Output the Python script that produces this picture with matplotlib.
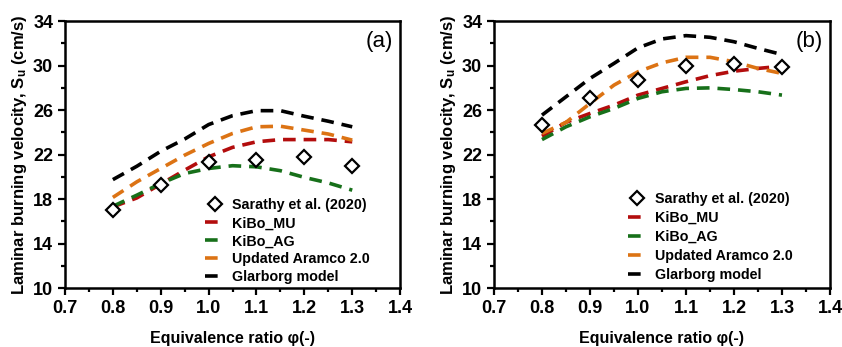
import numpy as np
import matplotlib
matplotlib.use('Agg')
import matplotlib.pyplot as plt
from matplotlib.ticker import MultipleLocator, FixedLocator

plt.rcParams['font.family'] = ['Liberation Sans', 'DejaVu Sans']
plt.rcParams['font.weight'] = 'bold'
plt.rcParams['mathtext.fontset'] = 'custom'
plt.rcParams['mathtext.rm'] = 'Liberation Sans:bold'
plt.rcParams['mathtext.bf'] = 'Liberation Sans:bold'

#DATA
phi_exp = [0.8, 0.9, 1.0, 1.1, 1.2, 1.3]
phi = [0.8, 0.85, 0.9, 0.95, 1.0, 1.05, 1.1, 1.15, 1.2, 1.25, 1.3]
yticks = [10, 14, 18, 22, 26, 30, 34]

# panel (a)
sarathy_a = [17.0, 19.25, 21.3, 21.5, 21.8, 20.95]
mu_a = [17.3, 18.1, 19.35, 20.6, 21.8, 22.65, 23.15, 23.35, 23.35, 23.35, 23.15]
ag_a = [17.35, 18.35, 19.4, 20.3, 20.75, 21.0, 20.9, 20.55, 19.95, 19.45, 18.8]
aramco_a = [18.15, 19.55, 20.75, 21.95, 23.0, 23.9, 24.5, 24.55, 24.2, 23.85, 23.3]
glarborg_a = [19.75, 20.95, 22.3, 23.4, 24.7, 25.5, 25.95, 25.95, 25.45, 25.0, 24.5]

# panel (b)
sarathy_b = [24.7, 27.1, 28.7, 30.0, 30.15, 29.9]
mu_b = [23.65, 24.9, 25.7, 26.45, 27.35, 27.95, 28.55, 29.1, 29.5, 29.75, 29.95]
ag_b = [23.35, 24.5, 25.4, 26.15, 27.05, 27.65, 27.95, 28.0, 27.85, 27.65, 27.35]
aramco_b = [23.9, 24.9, 26.6, 28.25, 29.45, 30.25, 30.75, 30.75, 30.35, 29.75, 29.3]
glarborg_b = [25.55, 27.2, 28.85, 30.2, 31.6, 32.4, 32.7, 32.55, 32.15, 31.55, 31.0]

labels = ['Sarathy et al. (2020)', 'KiBo_MU', 'KiBo_AG', 'Updated Aramco 2.0', 'Glarborg model']
colors = ['#b30d0d', '#17701a', '#dc7314', '#000000']

fig = plt.figure(figsize=(8.42, 3.47), dpi=100)
ax1 = fig.add_axes([0.0772, 0.170, 0.398, 0.769])
ax2 = fig.add_axes([0.5867, 0.170, 0.399, 0.769])

def panel(ax, sar, models, tag, legx, legy, lspace):
    h = []
    h.append(ax.plot(phi_exp, sar, ls='none', marker='D', ms=7, mfc='white',
                     mec='black', mew=1.6, zorder=5)[0])
    for m, c in zip(models, colors):
        h.append(ax.plot(phi, m, color=c, lw=2.6, dashes=(3.5, 2.2))[0])
    ax.set_xlim(0.7, 1.4)
    ax.set_ylim(10, 34)
    ax.xaxis.set_major_locator(MultipleLocator(0.1))
    ax.xaxis.set_minor_locator(MultipleLocator(0.05))
    ax.yaxis.set_major_locator(FixedLocator(yticks))
    ax.yaxis.set_minor_locator(MultipleLocator(2))
    ax.xaxis.set_major_formatter(plt.FuncFormatter(lambda v, p: '%.1f' % v))
    ax.tick_params(which='both', direction='out', width=1.6, labelsize=13)
    ax.tick_params(which='major', length=5)
    ax.tick_params(which='minor', length=3)
    for s in ax.spines.values():
        s.set_linewidth(1.8)
    ax.set_xlabel('Equivalence ratio φ(-)', fontsize=11.5, fontweight='bold', labelpad=10)
    ax.set_ylabel(r'Laminar burning velocity, $\mathrm{S_u}$ (cm/s)', fontsize=12,
                  fontweight='bold', labelpad=3)
    ax.text(0.98, 0.965, tag, transform=ax.transAxes, ha='right', va='top',
            fontsize=16, fontweight='normal')
    ax.legend(h, labels, loc='lower left', bbox_to_anchor=(legx, legy), frameon=False,
              fontsize=10.3, handlelength=1.3, handletextpad=0.6, labelspacing=lspace)

panel(ax1, sarathy_a, [mu_a, ag_a, aramco_a, glarborg_a], '(a)', 0.38, -0.035, 0.28)
panel(ax2, sarathy_b, [mu_b, ag_b, aramco_b, glarborg_b], '(b)', 0.36, -0.025, 0.34)

fig.savefig('out.png', dpi=100)
